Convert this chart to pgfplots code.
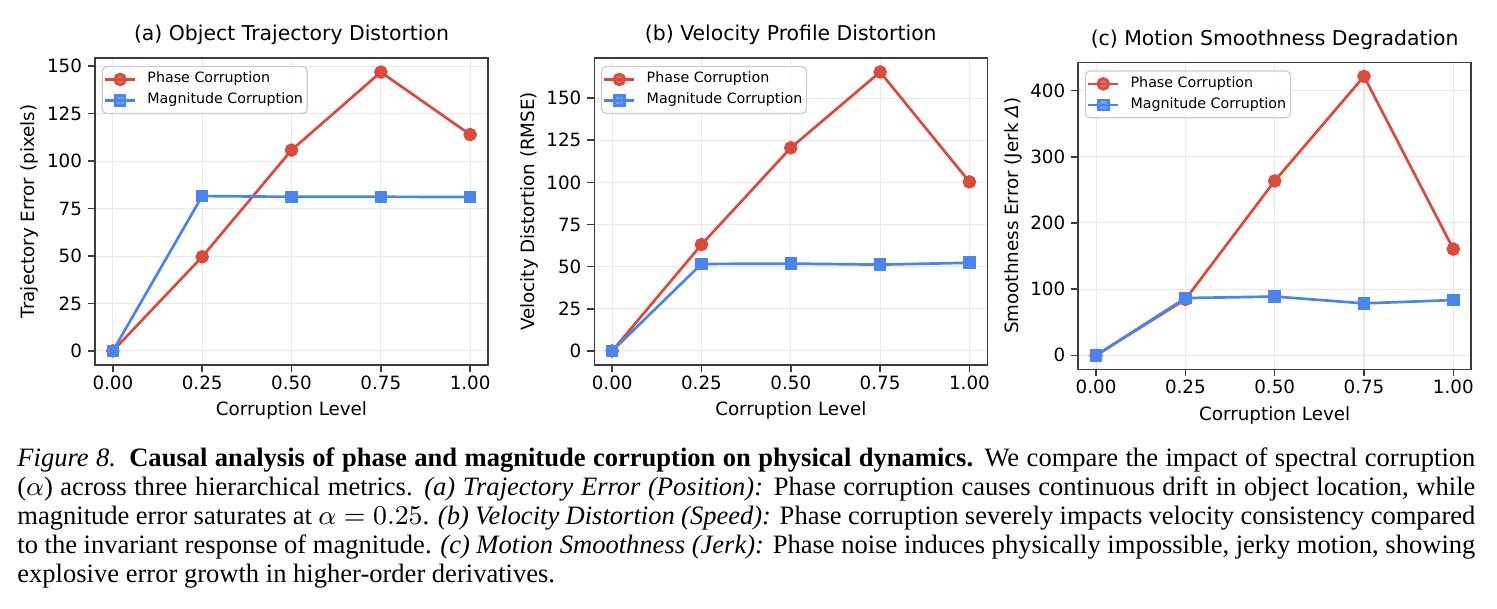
\documentclass[border=0pt]{standalone}
\usepackage[no-math]{fontspec}
\setmainfont{Liberation Serif}
\newfontfamily\dejavu{DejaVu Sans}
\usepackage{pgfplots}
\usepackage{pgfplotstable}
\pgfplotsset{compat=1.18}

\definecolor{phasered}{HTML}{DB4A3B}
\definecolor{magblue}{HTML}{4A84EE}
\definecolor{spine}{HTML}{3C3C3C}

% Corruption level, phase-corruption error, magnitude-corruption error
\pgfplotstableread{
level phase  mag
0.00  0.0    0.0
0.25  49.6   81.6
0.50  105.8  81.2
0.75  146.9  81.2
1.00  114.0  81.1
}\trajtable
\pgfplotstableread{
level phase  mag
0.00  0.0    0.0
0.25  63.1   51.6
0.50  120.5  51.8
0.75  165.5  51.2
1.00  100.3  52.3
}\veltable
\pgfplotstableread{
level phase  mag
0.00  0.0    0.0
0.25  84.5   86.5
0.50  263.5  88.8
0.75  421.5  78.5
1.00  160.5  83.5
}\jerktable

\pgfplotsset{
  every axis title shift=0pt,
  panel/.style={
    scale only axis, width=131pt, height=102.3pt,
    xmin=-0.05, xmax=1.05,
    xtick={0,0.25,0.5,0.75,1},
    x tick label style={/pgf/number format/.cd, fixed, fixed zerofill, precision=2, /tikz/.cd, yshift=2.3pt},
    y tick label style={/pgf/number format/.cd, fixed, /tikz/.cd, xshift=1.5pt},
    /pgf/number format/assume math mode=true,
    grid=major, major grid style={black!9, line width=0.35pt},
    axis line style={spine, line width=0.5pt},
    tick align=outside, major tick length=2.3pt,
    tick style={spine, line width=0.5pt},
    xtick pos=lower, ytick pos=left,
    ticklabel style={font=\dejavu\fontsize{6.1}{7}\selectfont, text=black},
    title style={font=\dejavu\fontsize{6.8}{8}\selectfont, at={(axis description cs:0.5,1)}, anchor=base, yshift=5.7pt},
    xlabel style={font=\dejavu\fontsize{6.1}{7}\selectfont, at={(axis description cs:0.5,0)}, anchor=base, yshift=-17pt},
    ylabel style={font=\dejavu\fontsize{6.1}{7}\selectfont, at={(axis description cs:-0.166,0.5)}, anchor=center},
    xlabel={Corruption Level},
    legend cell align=left,
    legend style={
      at={(axis description cs:0.017,0.974)}, anchor=north west,
      draw=black!20, rounded corners=1.5pt, fill=white, fill opacity=0.8, text opacity=1,
      font=\dejavu\fontsize{4.75}{5.5}\selectfont,
      inner xsep=0.5pt, inner ysep=0.8pt, row sep=0pt,
      nodes={inner sep=0.95pt},
      /tikz/every odd column/.append style={column sep=2.7pt},
    },
    legend image code/.code={
      \draw[##1, mark repeat=2, mark phase=2] plot coordinates {(0pt,0pt) (5pt,0pt) (10pt,0pt)};
    },
  },
  phase/.style={color=phasered, line width=0.9pt, mark=*, mark size=1.8pt, mark options={solid, fill=phasered, draw=phasered}},
  mag/.style={color=magblue, line width=0.9pt, mark=square*, mark size=1.65pt, mark options={solid, fill=magblue, draw=magblue}},
}

\begin{document}
\begin{tikzpicture}
\path[use as bounding box] (0,0) rectangle (499pt,-203pt);

\begin{axis}[panel, at={(31.67pt,-19.33pt)}, anchor=north west,
  ymin=-7.35, ymax=154.35, ytick={0,25,...,150},
  title={(a) Object Trajectory Distortion},
  ylabel={Trajectory Error (pixels)}]
  \addplot[phase] table[x=level, y=phase] {\trajtable};
  \addplot[mag] table[x=level, y=mag] {\trajtable};
  \legend{Phase Corruption, Magnitude Corruption}
\end{axis}

\begin{axis}[panel, at={(198.1pt,-19.33pt)}, anchor=north west,
  ymin=-8.28, ymax=173.8, ytick={0,25,...,150},
  title={(b) Velocity Profile Distortion},
  ylabel={Velocity Distortion (RMSE)}]
  \addplot[phase] table[x=level, y=phase] {\veltable};
  \addplot[mag] table[x=level, y=mag] {\veltable};
  \legend{Phase Corruption, Magnitude Corruption}
\end{axis}

\begin{axis}[panel, at={(359.4pt,-20.8pt)}, anchor=north west,
  ymin=-21.1, ymax=442.6, ytick={0,100,...,400},
  title={(c) Motion Smoothness Degradation},
  ylabel={Smoothness Error (Jerk {\itshape Δ})}]
  \addplot[phase] table[x=level, y=phase] {\jerktable};
  \addplot[mag] table[x=level, y=mag] {\jerktable};
  \legend{Phase Corruption, Magnitude Corruption}
\end{axis}

\node[anchor=base west, inner sep=0pt] at (5.6pt,-155.6pt) {\parbox[t]{486pt}{%
  \fontsize{8.85}{9.67}\selectfont\parindent=0pt
  \textit{Figure 8.}\enspace\textbf{Causal analysis of phase and magnitude corruption on physical dynamics.} We compare the impact of spectral corruption\linebreak
  ($\alpha$) across three hierarchical metrics. \textit{(a) Trajectory Error (Position):} Phase corruption causes continuous drift in object location, while\linebreak
  magnitude error saturates at $\alpha = 0.25$. \textit{(b) Velocity Distortion (Speed):} Phase corruption severely impacts velocity consistency compared\linebreak
  to the invariant response of magnitude. \textit{(c) Motion Smoothness (Jerk):} Phase noise induces physically impossible, jerky motion, showing\linebreak
  explosive error growth in higher-order derivatives.}};
\end{tikzpicture}
\end{document}
